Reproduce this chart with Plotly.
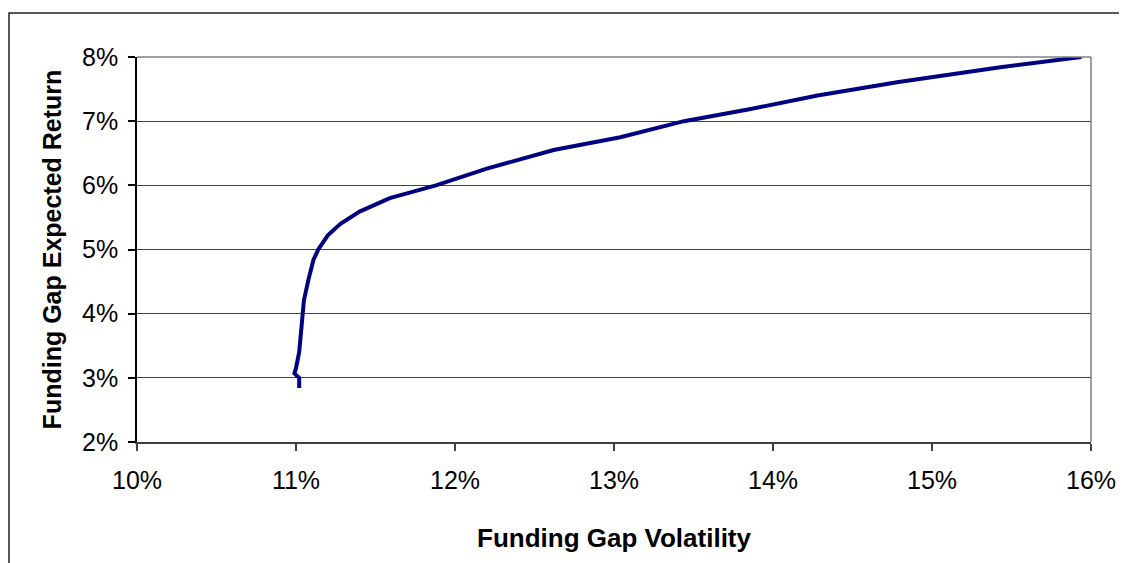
import plotly.graph_objects as go

# Funding gap efficient frontier (values in %)
volatility = [11.02, 11.02, 10.99, 11.00, 11.02, 11.03, 11.04, 11.05, 11.08, 11.11,
              11.14, 11.20, 11.28, 11.40, 11.59, 11.78, 11.88, 12.20, 12.62, 13.04,
              13.23, 13.44, 13.86, 14.28, 14.79, 15.43, 15.94]
expected_return = [2.84, 3.00, 3.07, 3.15, 3.40, 3.64, 4.00, 4.21, 4.55, 4.84,
                   5.00, 5.22, 5.40, 5.59, 5.80, 5.94, 6.00, 6.26, 6.55, 6.75,
                   6.87, 7.00, 7.19, 7.40, 7.61, 7.84, 8.00]

x_ticks = [10, 11, 12, 13, 14, 15, 16]
y_ticks = [2, 3, 4, 5, 6, 7, 8]

# page body has an 8px margin, so figure coords are offset by 8px
W, H = 1119, 555
ML, MR, MT, MB = 129, 36, 49, 121
pw, ph = W - ML - MR, H - MT - MB

fig = go.Figure()
fig.add_trace(go.Scatter(x=volatility, y=expected_return, mode="lines",
                         line=dict(color="#000080", width=4), showlegend=False,
                         cliponaxis=False))

font = dict(family="Liberation Sans, Arial, sans-serif", color="black")

fig.update_layout(
    width=W, height=H,
    margin=dict(l=ML, r=MR, t=MT, b=MB, pad=0),
    paper_bgcolor="white", plot_bgcolor="white",
    font=dict(**font, size=25),
    xaxis=dict(range=[10, 16], tickvals=x_ticks, ticktext=[f"{v}%" for v in x_ticks],
               showgrid=False, zeroline=False, showline=True, linecolor="#404040", linewidth=1.5,
               ticks="outside", ticklen=7, tickcolor="#404040", tickwidth=1.5,
               ticklabelstandoff=8, tickfont=dict(size=25),
               title=dict(text="<b>Funding Gap Volatility</b>", font=dict(size=26), standoff=36)),
    yaxis=dict(range=[2, 8], tickvals=y_ticks, ticktext=[f"{v}%" for v in y_ticks],
               showgrid=True, gridcolor="#404040", gridwidth=1, zeroline=False,
               showline=True, linecolor="black", linewidth=1.5,
               ticks="outside", ticklen=7, tickcolor="black", tickwidth=1.5,
               ticklabelstandoff=5, tickfont=dict(size=25),
               title=dict(text="<b>Funding Gap Expected Return</b>", font=dict(size=25), standoff=13)),
    shapes=[
        # outer chart border
        dict(type="rect", xref="paper", yref="paper",
             x0=(1 - ML) / pw, x1=1.2, y0=-0.6, y1=(H - MB - 5) / ph,
             line=dict(color="#202020", width=1.5), layer="below"),
        # right plot border
        dict(type="line", xref="paper", yref="paper", x0=1, x1=1, y0=0, y1=1,
             line=dict(color="#808080", width=1.5)),
        # top plot border
        dict(type="line", xref="paper", yref="paper", x0=0, x1=1, y0=1, y1=1,
             line=dict(color="#808080", width=1.5)),
    ],
)

fig.write_html("out.html")
